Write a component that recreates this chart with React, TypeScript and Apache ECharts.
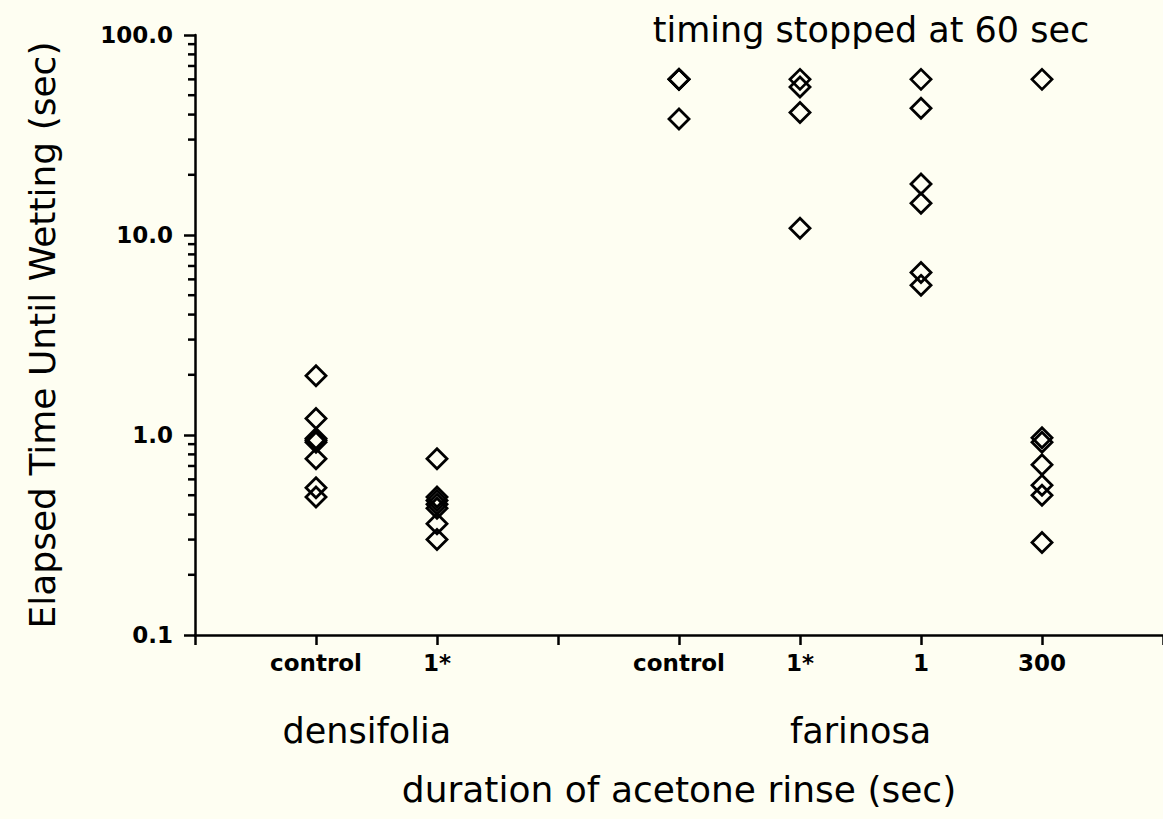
import React, { useEffect, useRef } from "react";
import * as echarts from "echarts";

// x positions of the six treatment columns on the value x axis
const columnPositions = [1, 2, 4, 5, 6, 7];
// tick labels at x = 0..8
const xTickLabels = ["", "control", "1*", "", "control", "1*", "1", "300", ""];
const groupNames = ["densifolia", "farinosa"];
const groupCenters = [1.42, 5.5];

// Elapsed time until wetting (sec)
const densifoliaControl = [1.98, 1.21, 0.96, 0.94, 0.92, 0.76, 0.545, 0.49];
const densifolia1Star = [0.76, 0.49, 0.47, 0.45, 0.43, 0.36, 0.3];
const farinosaControl = [60, 60, 60, 38];
const farinosa1Star = [60, 55, 41, 10.8];
const farinosa1 = [60, 43, 18, 14.4, 6.5, 5.6];
const farinosa300 = [60, 0.97, 0.92, 0.71, 0.56, 0.5, 0.29];

const columns = [
  densifoliaControl,
  densifolia1Star,
  farinosaControl,
  farinosa1Star,
  farinosa1,
  farinosa300,
];

const minorTickValues = [
  0.2, 0.3, 0.4, 0.5, 0.6, 0.7, 0.8, 0.9,
  2, 3, 4, 5, 6, 7, 8, 9,
  20, 30, 40, 50, 60, 70, 80, 90,
];

const FONT = "DejaVu Sans";

export default function App() {
  const ref = useRef<HTMLDivElement>(null);

  useEffect(() => {
    if (!ref.current) return;
    const chart = echarts.init(ref.current, undefined, { renderer: "svg" });

    const points: number[][] = [];
    columns.forEach((vals, i) => {
      vals.forEach((v) => points.push([columnPositions[i], v]));
    });

    const gridLeft = 195;
    const gridTop = 35;
    const gridBottom = 184;
    const width = 1163;
    const plotW = width - gridLeft;
    const toPx = (x: number) => gridLeft + (x / 8) * plotW;

    chart.setOption({
      animation: false,
      backgroundColor: "#fefef2",
      grid: {
        left: gridLeft,
        right: 0,
        top: gridTop,
        bottom: gridBottom,
        outerBoundsMode: "none",
        containLabel: false,
      },
      xAxis: {
        type: "value",
        min: 0,
        max: 8,
        interval: 1,
        splitLine: { show: false },
        axisLine: { lineStyle: { color: "#000", width: 2.5 } },
        axisTick: { show: true, length: 10, lineStyle: { color: "#000", width: 2.5 } },
        axisLabel: {
          margin: 16,
          color: "#000",
          fontFamily: FONT,
          fontWeight: "bold",
          fontSize: 23,
          formatter: (v: number) => xTickLabels[Math.round(v)] ?? "",
        },
        name: "duration of acetone rinse (sec)",
        nameLocation: "middle",
        nameGap: 136,
        nameTextStyle: { color: "#000", fontFamily: FONT, fontSize: 36 },
      },
      yAxis: {
        type: "log",
        logBase: 10,
        min: 0.1,
        max: 100,
        splitLine: { show: false },
        axisLine: { show: true, lineStyle: { color: "#000", width: 2.5 } },
        axisTick: { show: true, length: 11, lineStyle: { color: "#000", width: 2.5 } },
        axisLabel: {
          margin: 22,
          color: "#000",
          fontFamily: FONT,
          fontWeight: "bold",
          fontSize: 23,
          formatter: (v: number) => Number(v).toFixed(1),
        },
        name: "Elapsed Time Until Wetting (sec)",
        nameLocation: "middle",
        nameGap: 135,
        nameTextStyle: { color: "#000", fontFamily: FONT, fontSize: 36 },
      },
      graphic: [
        {
          type: "text",
          x: 871,
          y: 30,
          style: {
            text: "timing stopped at 60 sec",
            fill: "#000",
            font: `35px '${FONT}'`,
            align: "center",
            verticalAlign: "middle",
          },
        },
        ...groupNames.map((name, i) => ({
          type: "text",
          x: toPx(groupCenters[i]),
          y: 731,
          style: {
            text: name,
            fill: "#000",
            font: `35px '${FONT}'`,
            align: "center",
            verticalAlign: "middle",
          },
        })),
      ],
      series: [
        {
          // minor ticks of the log axis
          type: "scatter",
          silent: true,
          clip: false,
          symbol: "rect",
          symbolSize: [7, 2.5],
          symbolOffset: [-3.5, 0],
          itemStyle: { color: "#000", opacity: 1 },
          data: minorTickValues.map((v) => [0, v]),
          z: 5,
        },
        {
          type: "scatter",
          symbol: "diamond",
          symbolSize: 20,
          itemStyle: {
            color: "rgba(0,0,0,0)",
            borderColor: "#000",
            borderWidth: 2.8,
            opacity: 1,
          },
          data: points,
        },
      ],
    });

    return () => chart.dispose();
  }, []);

  return (
    <div
      ref={ref}
      style={{ position: "absolute", left: 0, top: 0, width: 1163, height: 819 }}
    />
  );
}
